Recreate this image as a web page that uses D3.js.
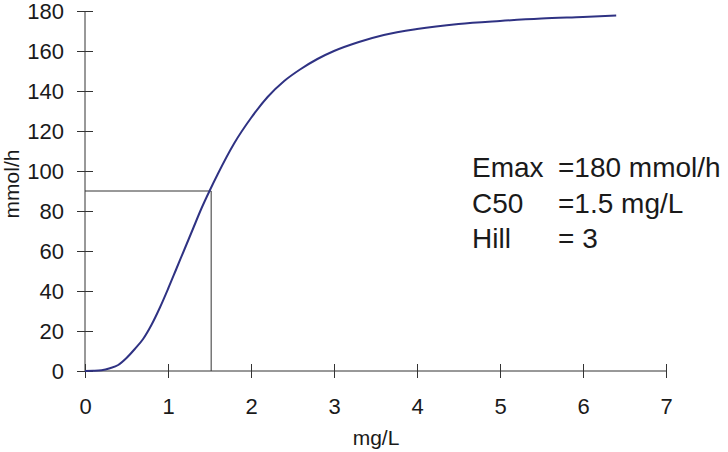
<!DOCTYPE html>
<html>
<head>
<meta charset="utf-8">
<script src="https://cdn.jsdelivr.net/npm/d3@7"></script>
<style>
  body { margin: 0; background: #fff; }
  svg { display: block; font-family: "Liberation Sans", Arial, sans-serif; }
</style>
</head>
<body>
<div id="chart"></div>
<script>
// values
const conc = [0, 0.1, 0.2, 0.3, 0.4, 0.5, 0.6, 0.7, 0.8, 0.9, 1.0, 1.1, 1.2, 1.3, 1.4, 1.5, 1.6, 1.8, 2.0, 2.2, 2.4, 2.6, 2.8, 3.0, 3.3, 3.6, 4.0, 4.5, 5.0, 5.5, 6.0, 6.4]
const effect = [0, 0.1, 0.4, 1.4, 3, 6.5, 11, 16, 23, 31.5, 41, 51, 61, 71, 81, 90, 98.5, 114, 126.5, 137, 145, 151, 156, 160, 164.5, 168, 171, 173.5, 175, 176.2, 177, 177.7]
const xTicks = [0, 1, 2, 3, 4, 5, 6, 7]
const yTicks = [0, 20, 40, 60, 80, 100, 120, 140, 160, 180]
const c50Point = [1.52, 90]
const paramNames = ['Emax', 'C50', 'Hill']
const paramValues = ['=180 mmol/h', '=1.5 mg/L', '= 3']

const width = 728, height = 452
const margin = {top: 11, right: 62, bottom: 81, left: 85}

const x = d3.scaleLinear().domain([0, 7]).range([margin.left, width - margin.right])
const y = d3.scaleLinear().domain([0, 180]).range([height - margin.bottom, margin.top])

const svg = d3.select('#chart').append('svg')
  .attr('width', width)
  .attr('height', height)

const axisColor = '#333'
const textColor = '#1a1a1a'

// y axis, ticks cross the line
const yAxis = svg.append('g')
  .attr('transform', `translate(${margin.left},0)`)
  .call(d3.axisLeft(y).tickValues(yTicks).tickFormat(d3.format('d')).tickSize(8).tickPadding(13))
yAxis.select('.domain').attr('stroke', axisColor).attr('d', `M0,${y(180)}V${y(0)}`)
yAxis.selectAll('.tick line').attr('stroke', axisColor).attr('x1', -8).attr('x2', 8)
yAxis.selectAll('.tick text')
  .attr('fill', textColor)
  .style('font-size', '22px')

// x axis
const xAxis = svg.append('g')
  .attr('transform', `translate(0,${y(0)})`)
  .call(d3.axisBottom(x).tickValues(xTicks).tickFormat(d3.format('d')).tickSize(7).tickPadding(20))
xAxis.select('.domain').attr('stroke', axisColor).attr('d', `M${x(0)},0H${x(7)}`)
xAxis.selectAll('.tick line').attr('stroke', axisColor).attr('y1', -7).attr('y2', 7)
xAxis.selectAll('.tick text')
  .attr('fill', textColor)
  .style('font-size', '22px')

// axis titles
svg.append('text')
  .attr('x', 376)
  .attr('y', 445)
  .attr('text-anchor', 'middle')
  .attr('fill', textColor)
  .style('font-size', '21px')
  .text('mg/L')

svg.append('text')
  .attr('transform', `translate(19,184) rotate(-90)`)
  .attr('text-anchor', 'middle')
  .attr('fill', textColor)
  .style('font-size', '21px')
  .text('mmol/h')

// C50 guide lines
svg.append('path')
  .attr('d', `M${x(0)},${y(c50Point[1])}H${x(c50Point[0])}V${y(0)}`)
  .attr('fill', 'none')
  .attr('stroke', axisColor)
  .attr('stroke-width', 1)

// curve
const pts = conc.map((c, i) => [c, effect[i]])
svg.append('path')
  .datum(pts)
  .attr('d', d3.line().x(d => x(d[0])).y(d => y(d[1])).curve(d3.curveMonotoneX))
  .attr('fill', 'none')
  .attr('stroke', '#2f3283')
  .attr('stroke-width', 2)

// parameter annotation
const notes = svg.append('g').attr('fill', textColor).style('font-size', '28px')
paramNames.forEach((n, i) => {
  notes.append('text').attr('x', 472).attr('y', 177 + i * 35.5).text(n)
  notes.append('text').attr('x', 558).attr('y', 177 + i * 35.5).text(paramValues[i])
})
</script>
</body>
</html>
